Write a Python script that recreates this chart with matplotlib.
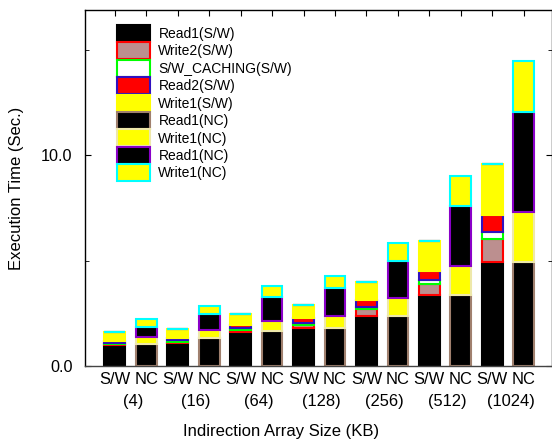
import matplotlib
matplotlib.use("Agg")
import matplotlib.pyplot as plt
import matplotlib.transforms as mtransforms
from matplotlib.ticker import FixedLocator
import numpy as np

plt.rcParams['font.family'] = ['Liberation Sans', 'DejaVu Sans']

sizes = ['4', '16', '64', '128', '256', '512', '1024']
bar_labels = ['S/W', 'NC']

# S/W bars
read1_sw = [1.01, 1.07, 1.63, 1.79, 2.37, 3.35, 4.91]
write2_sw = [0.05, 0.07, 0.10, 0.17, 0.33, 0.54, 1.11]
cache_sw = [0.05, 0.07, 0.09, 0.09, 0.11, 0.19, 0.35]
read2_sw = [0.08, 0.10, 0.12, 0.21, 0.32, 0.44, 0.79]
write1_sw = [0.42, 0.44, 0.52, 0.63, 0.87, 1.42, 2.41]
# NC bars
read1_nc = [1.04, 1.34, 1.66, 1.79, 2.37, 3.36, 4.94]
write1_nc = [0.35, 0.37, 0.47, 0.58, 0.84, 1.39, 2.37]
read1_nc2 = [0.47, 0.74, 1.15, 1.34, 1.78, 2.83, 4.75]
write1_nc2 = [0.35, 0.38, 0.51, 0.56, 0.82, 1.42, 2.38]

series_names = ['Read1(S/W)', 'Write2(S/W)', 'S/W_CACHING(S/W)', 'Read2(S/W)',
                'Write1(S/W)', 'Read1(NC)', 'Write1(NC)', 'Read1(NC)', 'Write1(NC)']


def sw_only(vals):
    out = []
    for v in vals:
        out += [v, 0.0]
    return out


def nc_only(vals):
    out = []
    for v in vals:
        out += [0.0, v]
    return out


series = [sw_only(read1_sw), sw_only(write2_sw), sw_only(cache_sw), sw_only(read2_sw),
          sw_only(write1_sw), nc_only(read1_nc), nc_only(write1_nc),
          nc_only(read1_nc2), nc_only(write1_nc2)]

faces = ['black', '#bc8f8f', 'white', 'red', 'yellow', 'black', 'yellow', 'black', 'yellow']
edges = ['black', 'red', '#00ff00', '#3010c0', 'yellow', '#a0806e', '#eee8aa', '#8a00c8', '#00ffff']

fig = plt.figure(figsize=(5.52, 4.42), dpi=100)
ax = fig.add_axes([85 / 552, 1 - 366 / 442, (552 - 85) / 552, (366 - 9.5) / 442])

x = np.arange(len(series[0]))
bottom = np.zeros(len(x))
handles = []
for i, (vals, name) in enumerate(zip(series, series_names)):
    vals = np.array(vals)
    b = ax.bar(x, vals, width=0.66, bottom=bottom, color=faces[i], edgecolor=edges[i],
               linewidth=1.5, label=name, zorder=2 + i * 0.01)
    handles.append(b)
    bottom = bottom + vals

ax.set_xlim(-0.95, 13.9)
ax.set_ylim(0, 16.9)

ax.set_xticks(x)
ax.set_xticklabels([bar_labels[i % 2] for i in range(len(x))], fontsize=11.9)
ax.set_yticks([0, 10])
ax.set_yticklabels(['0.0', '10.0'], fontsize=11.7)
ax.yaxis.set_minor_locator(FixedLocator([5, 15]))
ax.tick_params(axis='x', which='both', direction='in', top=True, bottom=False,
               length=4.5, pad=4)
ax.tick_params(axis='y', which='major', direction='in', left=True, right=True,
               length=4.5, pad=9)
ax.tick_params(axis='y', which='minor', direction='in', left=True, right=True,
               length=3)
for sp in ax.spines.values():
    sp.set_linewidth(1.0)
ax.spines['bottom'].set_color('#444444')

trans = mtransforms.blended_transform_factory(ax.transData, fig.transFigure)
for i, s in enumerate(sizes):
    ax.text(2 * i + 0.58, 1 - 401.7 / 442, '(' + s + ')', transform=trans,
            ha='center', va='center', fontsize=11.9)

fig.text(280.8 / 552, 1 - 431.7 / 442, 'Indirection Array Size (KB)', ha='center',
         va='center', fontsize=12)
fig.text(17 / 552, 1 - 188 / 442, 'Execution Time (Sec.)', ha='center', va='center',
         rotation=90, fontsize=12)

ax.legend(handles=handles, loc='upper left', bbox_to_anchor=(117 / 552, 1 - 25 / 442),
          bbox_transform=fig.transFigure, frameon=False, fontsize=10,
          handlelength=2.38, handleheight=1.506, labelspacing=0.03, handletextpad=0.6,
          borderpad=0, borderaxespad=0)

fig.savefig('out.png', dpi=100)
